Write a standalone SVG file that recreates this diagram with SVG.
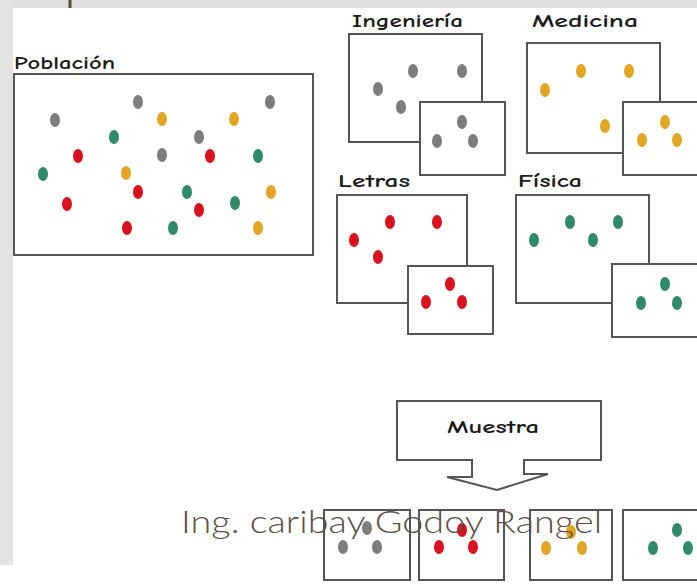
<svg xmlns="http://www.w3.org/2000/svg" width="697" height="584" viewBox="0 0 697 584">
<style>
.box{fill:#ffffff;stroke:#555555;stroke-width:2}
.lbl{font-family:"Comic Neue","DejaVu Sans","Liberation Sans",sans-serif;font-weight:bold;font-size:18px;fill:#1a1a1a}
.g{fill:#7d7d7d}.y{fill:#e2a526}.gr{fill:#2f8a67}.r{fill:#d8121e}
.footer{font-family:Lato,"Liberation Sans",Arial,sans-serif;font-weight:300;font-size:32px;fill:#5b5046}
</style>
<defs>
<ellipse id="d" cx="0" cy="0" rx="5" ry="7"/>
</defs>
<rect x="0" y="0" width="697" height="584" fill="#ffffff"/>
<rect x="0" y="0" width="697" height="8" fill="#dedede"/>
<rect x="0" y="0" width="13" height="565" fill="#e3e3e3"/>
<rect x="68.5" y="0" width="3" height="8" fill="#5b4a3a"/>

<g id="poblacion">
<text class="lbl" x="14" y="69" textLength="101" lengthAdjust="spacingAndGlyphs">Población</text>
<rect class="box" x="14" y="74" width="299" height="181"/>
<use href="#d" class="g" x="55" y="120"/><use href="#d" class="g" x="138" y="102"/><use href="#d" class="g" x="270" y="102"/><use href="#d" class="g" x="162" y="155"/><use href="#d" class="g" x="199" y="137"/>
<use href="#d" class="y" x="162" y="119"/><use href="#d" class="y" x="234" y="119"/><use href="#d" class="y" x="126" y="173"/><use href="#d" class="y" x="271" y="192"/><use href="#d" class="y" x="258" y="228"/>
<use href="#d" class="gr" x="114" y="137"/><use href="#d" class="gr" x="43" y="174"/><use href="#d" class="gr" x="258" y="156"/><use href="#d" class="gr" x="187" y="192"/><use href="#d" class="gr" x="235" y="203"/><use href="#d" class="gr" x="173" y="228"/>
<use href="#d" class="r" x="78" y="156"/><use href="#d" class="r" x="67" y="204"/><use href="#d" class="r" x="138" y="192"/><use href="#d" class="r" x="210" y="156"/><use href="#d" class="r" x="199" y="210"/><use href="#d" class="r" x="127" y="228"/>
</g>

<g id="ingenieria">
<text class="lbl" x="352" y="27" textLength="111" lengthAdjust="spacingAndGlyphs">Ingeniería</text>
<rect class="box" x="349" y="34" width="133" height="108"/>
<use href="#d" class="g" x="378" y="89"/><use href="#d" class="g" x="413" y="71"/><use href="#d" class="g" x="462" y="71"/><use href="#d" class="g" x="401" y="107"/>
<rect class="box" x="420" y="102" width="85" height="73"/>
<use href="#d" class="g" x="462" y="122"/><use href="#d" class="g" x="437" y="141"/><use href="#d" class="g" x="473" y="141"/>
</g>

<g id="medicina">
<text class="lbl" x="532" y="27" textLength="106" lengthAdjust="spacingAndGlyphs">Medicina</text>
<rect class="box" x="527" y="43" width="133" height="110"/>
<use href="#d" class="y" x="545" y="90"/><use href="#d" class="y" x="581" y="71"/><use href="#d" class="y" x="629" y="71"/><use href="#d" class="y" x="605" y="126"/>
<rect class="box" x="623" y="102" width="90" height="73"/>
<use href="#d" class="y" x="665" y="122"/><use href="#d" class="y" x="642" y="140"/><use href="#d" class="y" x="677" y="140"/>
</g>

<g id="letras">
<text class="lbl" x="338" y="187" textLength="72" lengthAdjust="spacingAndGlyphs">Letras</text>
<rect class="box" x="337" y="195" width="130" height="108"/>
<use href="#d" class="r" x="354" y="240"/><use href="#d" class="r" x="390" y="222"/><use href="#d" class="r" x="437" y="222"/><use href="#d" class="r" x="378" y="257"/>
<rect class="box" x="408" y="266" width="85" height="68"/>
<use href="#d" class="r" x="450" y="284"/><use href="#d" class="r" x="426" y="302"/><use href="#d" class="r" x="462" y="302"/>
</g>

<g id="fisica">
<text class="lbl" x="518" y="187" textLength="64" lengthAdjust="spacingAndGlyphs">Física</text>
<rect class="box" x="516" y="195" width="133" height="108"/>
<use href="#d" class="gr" x="534" y="240"/><use href="#d" class="gr" x="570" y="222"/><use href="#d" class="gr" x="618" y="222"/><use href="#d" class="gr" x="593" y="240"/>
<rect class="box" x="612" y="264" width="95" height="73"/>
<use href="#d" class="gr" x="665" y="284"/><use href="#d" class="gr" x="641" y="303"/><use href="#d" class="gr" x="677" y="303"/>
</g>

<g id="muestra">
<path class="box" d="M397,401 H601 V460 H524 V474 H548 L497,490 L447,477 H472 V460 H397 Z"/>
<text class="lbl" x="447" y="433" textLength="92" lengthAdjust="spacingAndGlyphs">Muestra</text>
</g>

<g id="connectors"></g>

<g id="samples">
<rect class="box" x="324" y="510" width="86" height="70"/>
<use href="#d" class="g" x="367" y="528"/><use href="#d" class="g" x="343" y="547"/><use href="#d" class="g" x="377" y="547"/>
<rect class="box" x="419" y="510" width="85" height="70"/>
<use href="#d" class="r" x="462" y="530"/><use href="#d" class="r" x="439" y="547"/><use href="#d" class="r" x="473" y="547"/>
<rect class="box" x="530" y="510" width="82" height="70"/>
<use href="#d" class="y" x="571" y="532"/><use href="#d" class="y" x="546" y="548"/><use href="#d" class="y" x="582" y="548"/>
<rect class="box" x="623" y="510" width="85" height="70"/>
<use href="#d" class="gr" x="677" y="530"/><use href="#d" class="gr" x="653" y="548"/><use href="#d" class="gr" x="688" y="548"/>
</g>

<g id="footer">
<text class="footer" x="181" y="533" textLength="421" lengthAdjust="spacingAndGlyphs">Ing. caribay Godoy Rangel</text>
</g>
</svg>
